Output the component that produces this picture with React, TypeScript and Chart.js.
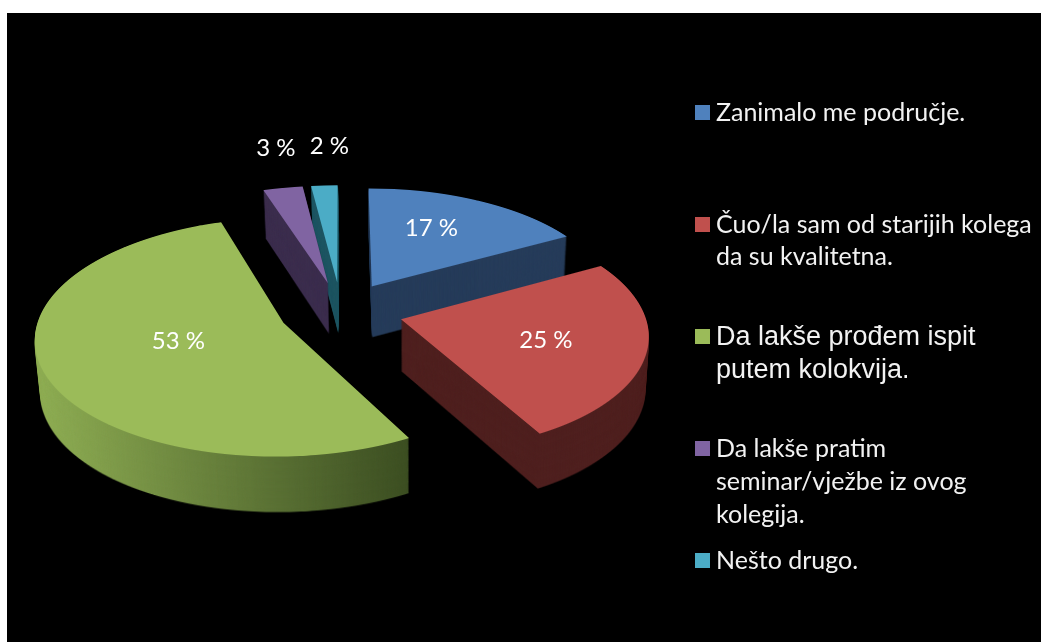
import React, { useEffect, useRef } from "react";
import { Chart, registerables } from "chart.js";

Chart.register(...registerables);

// ---- data ----
const categories = [
  "Zanimalo me područje.",
  "Čuo/la sam od starijih kolega da su kvalitetna.",
  "Da lakše prođem ispit putem kolokvija.",
  "Da lakše pratim seminar/vježbe iz ovog kolegija.",
  "Nešto drugo.",
];
const values = [17, 25, 53, 3, 2];
const legendLines = [
  ["Zanimalo me područje."],
  ["Čuo/la sam od starijih kolega", "da su kvalitetna."],
  ["Da lakše prođem ispit", "putem kolokvija."],
  ["Da lakše pratim", "seminar/vježbe iz ovog", "kolegija."],
  ["Nešto drugo."],
];

// ---- styles ----
const faceColors = ["#4f81bd", "#c0504d", "#9bbb59", "#8064a2", "#4bacc6"];
const sideColors = [
  ["#263c5a", "#263c5a"],
  ["#4f201f", "#4f201f"],
  ["#8fae54", "#3c4e22"],
  ["#3c2e4e", "#3c2e4e"],
  ["#1f5663", "#1f5663"],
];
const legendBaselines = [[121], [233, 265], [345, 378], [457, 490, 523], [569]];
const legendFonts = ["25px Lato", "25px Lato", "27px 'Liberation Sans'", "25px Lato", "25px Lato"];
const labelRadius = [0.62, 0.55, 0.5, 1.36, 1.36];
const labelNudge = [[-9, -3], [12, 3], [12, -5], [7, -10], [9, -9]];

const W = 1041;
const H = 642;
// perspective of the pie plane
const VIEW = { cx: 341, cy: 311, rx: 243, ry: 115, k: 0.118 };
// how far each slice is pulled out, as a share of the radius
const EXPLODE = 0.255;
// extrusion of the pie
const DEPTH = { steps: 50, base: 48, refY: 189, growY: 0.028, shrinkX: 0.015, vanishX: 410 };

function renderFace(arc: any): HTMLCanvasElement {
  const off = document.createElement("canvas");
  off.width = W;
  off.height = H;
  const c = off.getContext("2d")!;
  const P = arc.outerRadius;
  const mid = arc.startAngle + arc.circumference / 2;
  const dx = Math.cos(mid) * EXPLODE * P;
  const dy = Math.sin(mid) * EXPLODE * P;
  const { cx, cy, rx, ry, k } = VIEW;
  const planeY = (v: number) => -v / (ry + k * v);
  for (let s = 150; s < 530; s++) {
    const v0 = s - cy;
    const Y0 = planeY(v0);
    const Y1 = planeY(v0 + 1);
    const fy0 = -Y0 * P;
    const sy = 1 / (-Y1 * P - fy0);
    const sx = rx / (P * (1 + k * (Y0 + Y1) / 2));
    c.save();
    c.beginPath();
    c.rect(0, s, W, 1);
    c.clip();
    c.setTransform(sx, 0, 0, sy, cx - (arc.x - dx) * sx, s - (arc.y + fy0 - dy) * sy);
    arc.draw(c);
    c.restore();
  }
  return off;
}

function renderSide(face: HTMLCanvasElement, stops: string[]): HTMLCanvasElement {
  const off = document.createElement("canvas");
  off.width = W;
  off.height = H;
  const c = off.getContext("2d")!;
  c.drawImage(face, 0, 0);
  c.globalCompositeOperation = "source-in";
  const g = c.createLinearGradient(36, 0, 410, 0);
  g.addColorStop(0, stops[0]);
  g.addColorStop(1, stops[1]);
  c.fillStyle = g;
  c.fillRect(0, 0, W, H);
  return off;
}

function projectLabel(arc: any, r: number) {
  const mid = arc.startAngle + arc.circumference / 2;
  const X = Math.cos(mid) * (EXPLODE + r);
  const Y = -Math.sin(mid) * (EXPLODE + r);
  const w = 1 + VIEW.k * Y;
  return { x: VIEW.cx + (VIEW.rx * X) / w, y: VIEW.cy - (VIEW.ry * Y) / w };
}

const pie3d = {
  id: "pie3d",
  beforeDraw(chart: any) {
    const c = chart.ctx;
    c.save();
    c.fillStyle = "#ffffff";
    c.fillRect(0, 0, W, H);
    c.fillStyle = "#000000";
    c.fillRect(7, 13, W - 7, H - 13);
    c.restore();
  },
  beforeDatasetsDraw(chart: any) {
    const c = chart.ctx;
    const arcs: any[] = chart.getDatasetMeta(0).data;
    const order = arcs
      .map((a, i) => ({ i, depth: -Math.sin(a.startAngle + a.circumference / 2) }))
      .sort((a, b) => b.depth - a.depth);
    for (const { i } of order) {
      const face = renderFace(arcs[i]);
      const side = renderSide(face, sideColors[i]);
      for (let t = DEPTH.steps; t >= 1; t--) {
        const f = t / DEPTH.steps;
        const sx = 1 - DEPTH.shrinkX * f;
        const sy = 1 + DEPTH.growY * f;
        c.drawImage(
          side,
          DEPTH.vanishX * (1 - sx),
          f * (DEPTH.base - DEPTH.refY * DEPTH.growY),
          W * sx,
          H * sy
        );
      }
      c.drawImage(face, 0, 0);
    }
    return false;
  },
  afterDraw(chart: any) {
    const c = chart.ctx;
    const arcs: any[] = chart.getDatasetMeta(0).data;
    c.save();
    c.fillStyle = "#ffffff";
    c.textAlign = "center";
    c.textBaseline = "middle";
    c.font = "24px Lato";
    arcs.forEach((arc, i) => {
      const p = projectLabel(arc, labelRadius[i]);
      c.fillText(`${values[i]} %`, p.x + labelNudge[i][0], p.y + labelNudge[i][1]);
    });
    c.textAlign = "left";
    c.textBaseline = "alphabetic";
    legendLines.forEach((lines, i) => {
      const base = legendBaselines[i][0];
      c.fillStyle = faceColors[i];
      c.fillRect(695, base - 16, 15, 15);
      c.fillStyle = "#f2f2f2";
      c.font = legendFonts[i];
      lines.forEach((line, j) => c.fillText(line, 716, legendBaselines[i][j]));
    });
    c.restore();
  },
};

export default function App() {
  const ref = useRef<HTMLCanvasElement>(null);
  useEffect(() => {
    document.body.style.margin = "0";
    document.body.style.background = "#ffffff";
    const chart = new Chart(ref.current!, {
      type: "pie",
      data: {
        labels: categories,
        datasets: [
          {
            data: values,
            backgroundColor: faceColors,
            borderWidth: 0,
          },
        ],
      },
      options: {
        responsive: false,
        animation: false,
        plugins: { legend: { display: false }, tooltip: { enabled: false } },
      },
      plugins: [pie3d],
    } as any);
    return () => chart.destroy();
  }, []);
  return <canvas ref={ref} width={W} height={H} style={{ display: "block" }} />;
}
